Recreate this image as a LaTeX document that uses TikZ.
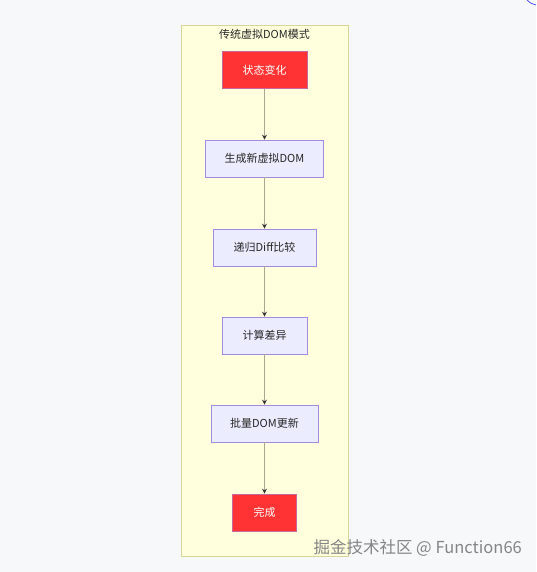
\documentclass[tikz,border=0pt]{standalone}
\usepackage{fontspec}
\setmainfont{Noto Sans CJK SC}
\usetikzlibrary{arrows.meta}
\definecolor{bgc}{HTML}{F7F8FA}
\definecolor{clusterfill}{HTML}{FFFFDE}
\definecolor{clusterline}{HTML}{D6D69A}
\definecolor{nodefill}{HTML}{ECECFF}
\definecolor{nodeline}{HTML}{A58BDF}
\definecolor{redfill}{HTML}{FF3333}
\definecolor{edgec}{HTML}{A9A98F}
\definecolor{wm}{HTML}{858585}
\tikzset{
  proc/.style={draw=nodeline, fill=nodefill, line width=0.7pt, minimum height=37pt, inner sep=0pt, font=\fontsize{11}{13}\selectfont, text=black!85},
  hot/.style={draw=nodeline!60!redfill, fill=redfill, line width=0.7pt, minimum height=37pt, inner sep=0pt, font=\fontsize{11}{13}\selectfont, text=white},
  flow/.style={draw=edgec, line width=1pt, -{Stealth[length=5pt,width=5pt,color=black!80]}}
}
\begin{document}
\begin{tikzpicture}[x=1pt,y=-1pt]
\useasboundingbox (0,0) rectangle (536,572);
\fill[bgc] (0,0) rectangle (536,572);
\draw[blue!70, line width=0.8pt] (527,0) .. controls (530,3) .. (536,5);
\draw[clusterline, fill=clusterfill, line width=0.8pt] (181,25) rectangle (348,556);
\node[font=\fontsize{11}{13}\selectfont, text=black!85] (title) at (264.5,34) {传统虚拟DOM模式};
\node[hot, minimum width=85pt] (a) at (264.5,70) {状态变化};
\node[proc, minimum width=118pt] (b) at (264.5,158.5) {生成新虚拟DOM};
\node[proc, minimum width=103pt] (c) at (264.5,247.5) {递归Diff比较};
\node[proc, minimum width=85pt] (d) at (264.5,335.5) {计算差异};
\node[proc, minimum width=107pt] (e) at (264.5,423.5) {批量DOM更新};
\node[hot, minimum width=64pt] (f) at (264.5,512.5) {完成};
\draw[flow] (a) -- (b);
\draw[flow] (b) -- (c);
\draw[flow] (c) -- (d);
\draw[flow] (d) -- (e);
\draw[flow] (e) -- (f);
\node[anchor=west, font=\fontsize{16.5}{19}\selectfont, text=wm] (wmark) at (310,548) {掘金技术社区 @ Function66};
\end{tikzpicture}
\end{document}
